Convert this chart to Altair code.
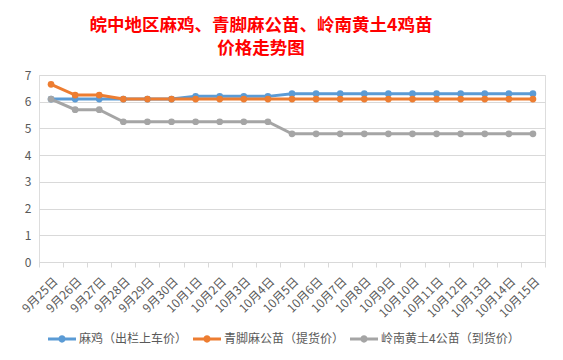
import altair as alt
import pandas as pd

dates = ["9月25日", "9月26日", "9月27日", "9月28日", "9月29日", "9月30日",
         "10月1日", "10月2日", "10月3日", "10月4日", "10月5日", "10月6日",
         "10月7日", "10月8日", "10月9日", "10月10日", "10月11日", "10月12日",
         "10月13日", "10月14日", "10月15日"]
series_names = ["麻鸡（出栏上车价）", "青脚麻公苗（提货价）", "岭南黄土4公苗（到货价）"]
maji = [6.1, 6.1, 6.1, 6.1, 6.1, 6.1, 6.2, 6.2, 6.2, 6.2, 6.3, 6.3, 6.3, 6.3,
        6.3, 6.3, 6.3, 6.3, 6.3, 6.3, 6.3]
qingjiao = [6.65, 6.25, 6.25, 6.1, 6.1, 6.1, 6.1, 6.1, 6.1, 6.1, 6.1, 6.1, 6.1,
            6.1, 6.1, 6.1, 6.1, 6.1, 6.1, 6.1, 6.1]
lingnan = [6.1, 5.7, 5.7, 5.25, 5.25, 5.25, 5.25, 5.25, 5.25, 5.25, 4.8, 4.8,
           4.8, 4.8, 4.8, 4.8, 4.8, 4.8, 4.8, 4.8, 4.8]
colors = ["#5B9BD5", "#ED7D31", "#A5A5A5"]
title_lines = ["皖中地区麻鸡、青脚麻公苗、岭南黄土4鸡苗", "价格走势图"]

rows = []
for name, vals in zip(series_names, [maji, qingjiao, lingnan]):
    for d, v in zip(dates, vals):
        rows.append({"date": d, "series": name, "line": name, "price": v})
df = pd.DataFrame(rows)

font = "Noto Sans CJK SC"
x_enc = alt.X("date:N", sort=dates, title=None,
              scale=alt.Scale(paddingInner=0, paddingOuter=0),
              axis=alt.Axis(labelAngle=-45, labelAlign="right", labelBaseline="middle",
                            labelOffset=4, labelPadding=12, tickBand="extent",
                            domainColor="#d9d9d9", tickColor="#d9d9d9", tickSize=5,
                            labelColor="#595959", labelFontSize=12, labelFont=font,
                            grid=False))
y_enc = alt.Y("price:Q", title=None,
              scale=alt.Scale(domain=[0, 7]),
              axis=alt.Axis(values=[0, 1, 2, 3, 4, 5, 6, 7], domain=False, ticks=False,
                            gridColor="#d9d9d9", labelColor="#595959", labelFontSize=12,
                            labelFont=font, labelPadding=8))

sym = ("M-1,-0.11L1,-0.11L1,0.11L-1,0.11Z "
       "M-0.26,0A0.26,0.26 0 1,1 0.26,0A0.26,0.26 0 1,1 -0.26,0Z")

lines = alt.Chart(df).mark_line(strokeWidth=3).encode(
    x=x_enc, y=y_enc,
    stroke=alt.Stroke("line:N", scale=alt.Scale(domain=series_names, range=colors),
                      legend=None),
)
points = alt.Chart(df).mark_point(filled=True, size=45, opacity=1).encode(
    x=x_enc, y=y_enc,
    color=alt.Color("series:N", scale=alt.Scale(domain=series_names, range=colors),
                    sort=series_names,
                    legend=alt.Legend(title=None, orient="none", direction="horizontal",
                                      legendX=8, legendY=249, symbolType=sym,
                                      symbolSize=784, symbolOpacity=1,
                                      labelFont=font, labelFontSize=12,
                                      labelColor="#595959", labelOffset=2,
                                      columnPadding=4, labelLimit=300)),
)

chart = alt.layer(lines, points).resolve_scale(color="independent", stroke="independent").properties(
    width=506, height=187,
    autosize=alt.AutoSizeParams(type="none"),
    padding={"left": 31, "top": 67, "right": 10, "bottom": 90},
    title=alt.Title(title_lines, color="#FF0000", fontSize=17.5, fontWeight="bold",
                    font=font, lineHeight=23, anchor="middle", frame="group",
                    dx=-31, offset=12),
).configure_view(stroke=None).configure(background="white")

chart.save("out.html", embed_options={"renderer": "svg", "actions": False})
